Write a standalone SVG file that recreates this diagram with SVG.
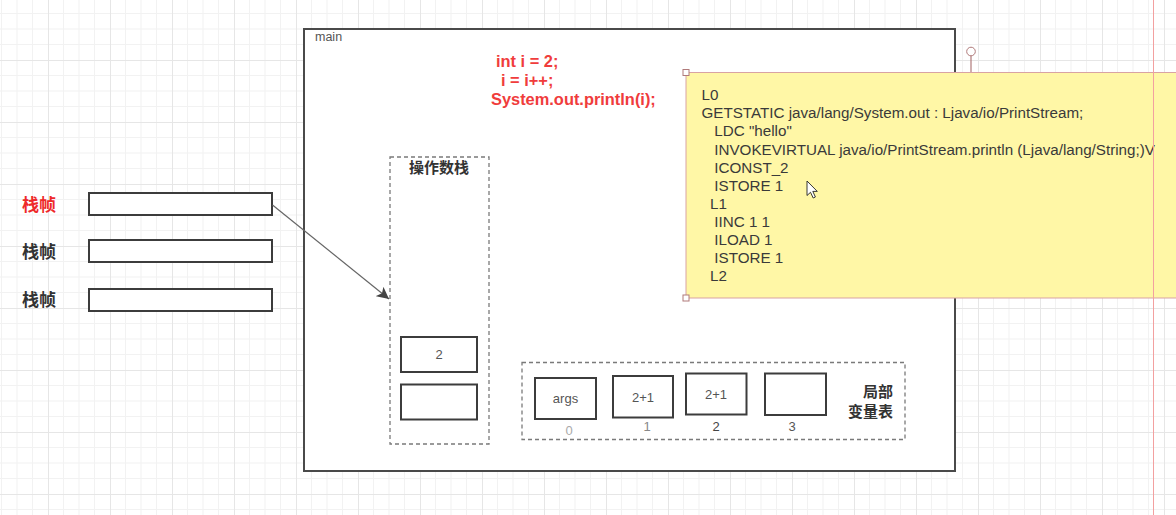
<svg xmlns="http://www.w3.org/2000/svg" width="1176" height="515" viewBox="0 0 1176 515">
<style>
.frame{fill:#fff;stroke:#4a4a4a;stroke-width:2}
.cell{fill:#fff;stroke:#3c3c3c;stroke-width:2}
.dash{fill:none;stroke:#7a7a7a;stroke-width:1.3;stroke-dasharray:4 3}
.cn{font-family:"Noto Sans CJK SC","Liberation Sans",sans-serif;font-weight:bold;font-size:15px;fill:#333}
.fl{font-size:17px}
.lbl{font-family:"Liberation Sans","Noto Sans",sans-serif;font-size:13px;fill:#555;text-anchor:middle}
.idx{font-family:"Liberation Sans","Noto Sans",sans-serif;font-size:13px;text-anchor:middle}
.code{font-family:"Liberation Sans","Noto Sans",sans-serif;font-weight:bold;font-size:16.4px;fill:#f03c3c}
.bc{font-family:"Liberation Sans","Noto Sans",sans-serif;font-size:15.2px;fill:#3a3a3a}
.handle{fill:#fff;stroke:#b07a7a;stroke-width:1}
</style>
<defs>
<pattern id="grid" patternUnits="userSpaceOnUse" x="48" y="60" width="62" height="62">
<rect width="62" height="62" fill="#fff"/>
<path d="M15.5 0V62M31 0V62M46.5 0V62M0 15.5H62M0 31H62M0 46.5H62" stroke="#f2f2f2" stroke-width="1" fill="none"/>
<path d="M0.5 0V62M0 0.5H62" stroke="#e6e6e6" stroke-width="1" fill="none"/>
</pattern>
<marker id="arr" markerUnits="userSpaceOnUse" markerWidth="14" markerHeight="12" refX="12" refY="6" orient="auto">
<path d="M0 0L12 6L0 12L3 6Z" fill="#444"/>
</marker>
</defs>
<rect width="1176" height="515" fill="url(#grid)"/>

<g id="main">
<rect x="304" y="29" width="651" height="442" class="frame"/>
<text x="315" y="41" font-family="Liberation Sans,sans-serif" font-size="12.5" fill="#555">main</text>
</g>

<g id="source-code">
<text class="code" x="496" y="67">int i = 2;</text>
<text class="code" x="501" y="86">i = i++;</text>
<text class="code" x="491" y="105">System.out.println(i);</text>
</g>

<g id="frame-1">
<text class="cn fl" x="22" y="211" style="fill:#ee2a2a">栈帧</text>
<rect x="89" y="193" width="183" height="22" class="cell"/>
</g>
<g id="frame-2">
<text class="cn fl" x="22" y="258">栈帧</text>
<rect x="89" y="240" width="183" height="22" class="cell"/>
</g>
<g id="frame-3">
<text class="cn fl" x="22" y="306">栈帧</text>
<rect x="89" y="289" width="183" height="22" class="cell"/>
</g>

<g id="operand-stack">
<rect x="390" y="157" width="99" height="287" class="dash"/>
<text class="cn" x="439" y="173" text-anchor="middle">操作数栈</text>
<rect x="401" y="337" width="76" height="35" class="cell"/>
<text class="lbl" x="439" y="359">2</text>
<rect x="401" y="384.5" width="76" height="35" class="cell"/>
</g>

<g id="local-vars">
<rect x="522" y="362.5" width="383" height="77" class="dash"/>
<rect x="535" y="378" width="61" height="41" class="cell"/>
<text class="lbl" x="565.5" y="403">args</text>
<rect x="613" y="376" width="60" height="41.5" class="cell"/>
<text class="lbl" x="643" y="401.5">2+1</text>
<rect x="686" y="373.5" width="60.5" height="41" class="cell"/>
<text class="lbl" x="716" y="398.5">2+1</text>
<rect x="765" y="373.5" width="61" height="41.5" class="cell"/>
<text class="idx" x="569" y="435" fill="#aaa">0</text>
<text class="idx" x="647" y="431" fill="#888">1</text>
<text class="idx" x="716" y="431" fill="#444">2</text>
<text class="idx" x="792" y="431" fill="#555">3</text>
<text class="cn" x="893" y="397" text-anchor="end">局部</text>
<text class="cn" x="893" y="417" text-anchor="end">变量表</text>
</g>

<g id="connectors">
<line x1="272.5" y1="205" x2="389" y2="299" stroke="#666" stroke-width="1.2" marker-end="url(#arr)"/>
</g>

<g id="bytecode-note">
<line x1="971" y1="56" x2="971" y2="72" stroke="#b07a7a" stroke-width="1.2"/>
<circle cx="971" cy="51.5" r="4.3" class="handle"/>
<rect x="686" y="72.5" width="500" height="225.5" fill="#fff7a6" stroke="#d9a3a3" stroke-width="1"/>
<rect x="683" y="69.5" width="6" height="6" class="handle"/>
<rect x="683" y="295" width="6" height="6" class="handle"/>
<text class="bc" x="701.5" y="100">L0</text>
<text class="bc" x="701.5" y="118.3">GETSTATIC java/lang/System.out : Ljava/io/PrintStream;</text>
<text class="bc" x="714.3" y="136.4">LDC "hello"</text>
<text class="bc" x="714.3" y="154.5">INVOKEVIRTUAL java/io/PrintStream.println (Ljava/lang/String;)V</text>
<text class="bc" x="714.3" y="172.6">ICONST_2</text>
<text class="bc" x="714.3" y="190.7">ISTORE 1</text>
<text class="bc" x="710" y="208.8">L1</text>
<text class="bc" x="714.3" y="226.9">IINC 1 1</text>
<text class="bc" x="714.3" y="245">ILOAD 1</text>
<text class="bc" x="714.3" y="263.1">ISTORE 1</text>
<text class="bc" x="710" y="281.2">L2</text>
</g>

<g id="guides">
<line x1="1153.5" y1="0" x2="1153.5" y2="515" stroke="#f3a0a0" stroke-width="1"/>
<path d="M807 181V195.5L810.5 192.3L813.2 198L815.4 197L812.8 191.4H817.3Z" fill="#fff" stroke="#222" stroke-width="0.9"/>
</g>
</svg>
